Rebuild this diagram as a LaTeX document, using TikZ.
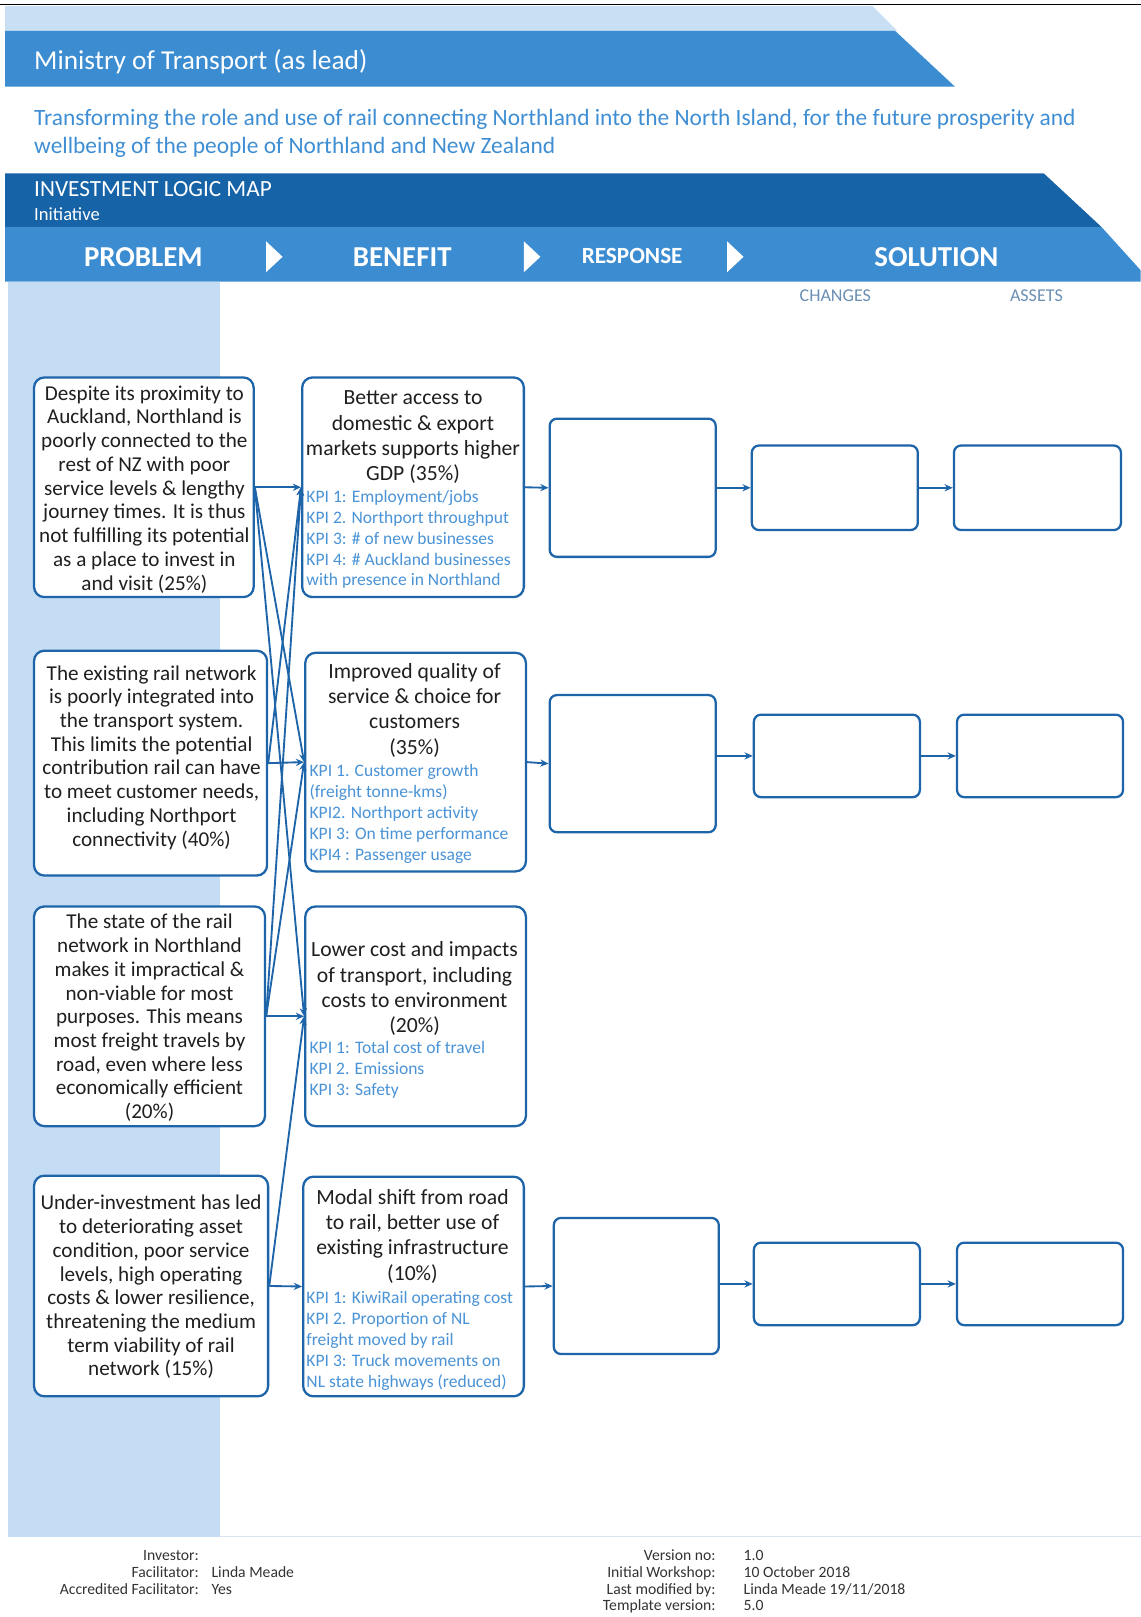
\documentclass[tikz,border=0pt]{standalone}
\usepackage{fontspec}
\setmainfont{Carlito}
\usetikzlibrary{arrows.meta}
\definecolor{bandlight}{HTML}{C9DFF4}
\definecolor{bandmid}{HTML}{3B8CD1}
\definecolor{banddark}{HTML}{1763A7}
\definecolor{colbg}{HTML}{C4DCF4}
\definecolor{boxline}{HTML}{1E64A8}
\definecolor{kpi}{HTML}{4A93D6}
\definecolor{subt}{HTML}{3F8ED3}
\definecolor{hdrgray}{HTML}{6A8FB3}
\definecolor{foot}{HTML}{333333}
\definecolor{rule}{HTML}{DCE5EE}
\begin{document}
\begin{tikzpicture}[x=1pt,y=-1pt,
  pbox/.style={draw=boxline, line width=2.2pt, rounded corners=10pt, fill=white, inner sep=0pt},
  ptext/.style={align=center, inner sep=0pt, font=\fontsize{20.5}{23}\selectfont, text=black!88},
  bbox/.style={draw=boxline, line width=2.2pt, rounded corners=10pt, fill=white, inner sep=0pt},
  ebox/.style={draw=boxline, line width=2.2pt, rounded corners=7pt, fill=white, inner sep=0pt},
  btitle/.style={font=\fontsize{21}{24.5}\selectfont, text=black!88, align=center, anchor=north, inner sep=0pt},
  kpitext/.style={font=\fontsize{17}{20.3}\selectfont, text=kpi, align=left, anchor=north west, inner sep=0pt},
  conn/.style={draw=boxline, line width=1.8pt, -{Stealth[length=8pt,width=7pt]}},
  hdr/.style={text=white, inner sep=0pt},
  phase/.style={text=white, inner sep=0pt, font=\fontsize{28}{32}\selectfont\bfseries},
  sub/.style={text=hdrgray, inner sep=0pt, font=\fontsize{17.5}{20}\selectfont},
  foottext/.style={text=foot, inner sep=0pt, font=\fontsize{15.2}{16}\selectfont},
  chev/.style={fill=white}
]
\useasboundingbox (0,0) rectangle (1106,1568);
% --- header bands
\draw[black, line width=1.2pt] (0,4) -- (1106,4);
\fill[bandlight] (5,6) -- (846,6) -- (870,30) -- (5,30) -- cycle;
\fill[bandmid] (5,30) -- (868,30) -- (926,84) -- (5,84) -- cycle;
\fill[banddark] (5,168) -- (1012,168) -- (1068,220) -- (5,220) -- cycle;
\fill[bandmid] (5,220) -- (1068,220) -- (1106,262) -- (1106,273) -- (5,273) -- cycle;
\fill[colbg] (8,273) rectangle (213,1490);
\draw[rule, line width=1pt] (213,1490) -- (1106,1490);
% chevrons
\fill[chev] (258,234) -- (274,249) -- (258,264) -- cycle;
\fill[chev] (508,234) -- (524,249) -- (508,264) -- cycle;
\fill[chev] (705,234) -- (721,249) -- (705,264) -- cycle;
% header texts
\node[hdr, anchor=west, font=\fontsize{26.5}{30}\selectfont] (ttl) at (33,60) {Ministry of Transport (as lead)};
\node[inner sep=0pt, anchor=west, text=subt, font=\fontsize{22.7}{26}\selectfont] (sub1) at (33,116) {Transforming the role and use of rail connecting Northland into the North Island, for the future prosperity and};
\node[inner sep=0pt, anchor=west, text=subt, font=\fontsize{22.7}{26}\selectfont] (sub2) at (33,143) {wellbeing of the people of Northland and New Zealand};
\node[hdr, anchor=west, font=\fontsize{22.5}{25}\selectfont] (ilm) at (33,183) {INVESTMENT LOGIC MAP};
\node[hdr, anchor=west, font=\fontsize{18}{20}\selectfont] (init) at (33,208) {Initiative};
\node[phase] (hp) at (139,249) {PROBLEM};
\node[phase] (hb) at (390,249) {BENEFIT};
\node[phase, font=\fontsize{22.5}{26}\selectfont\bfseries] (hr) at (613,248) {RESPONSE};
\node[phase] (hs) at (908,249) {SOLUTION};
\node[sub] (hc) at (810,287) {CHANGES};
\node[sub] (ha) at (1005,287) {ASSETS};
% --- problem boxes
\node[pbox, minimum width=213pt, minimum height=213pt] (p1) at (139.5,472.5) {};
\node[pbox, minimum width=226pt, minimum height=218pt] (p2) at (146,740) {};
\node[pbox, minimum width=224pt, minimum height=213pt] (p3) at (145,985.5) {};
\node[pbox, minimum width=227pt, minimum height=214pt] (p4) at (146.5,1247) {};
\node[ptext] (p1t) at (140,474.5)
 {Despite its proximity to\\Auckland, Northland is\\poorly connected to the\\rest of NZ with poor\\service levels \& lengthy\\journey times. It is thus\\not fulfilling its potential\\as a place to invest in\\and visit (25\%)};
\node[ptext] (p2t) at (147,734.5)
 {The existing rail network\\is poorly integrated into\\the transport system.\\This limits the potential\\contribution rail can have\\to meet customer needs,\\including Northport\\connectivity (40\%)};
\node[ptext] (p3t) at (145,987)
 {The state of the rail\\network in Northland\\makes it impractical \&\\non-viable for most\\purposes. This means\\most freight travels by\\road, even where less\\economically efficient\\(20\%)};
\node[ptext] (p4t) at (146.5,1248)
 {Under-investment has led\\to deteriorating asset\\condition, poor service\\levels, high operating\\costs \& lower resilience,\\threatening the medium\\term viability of rail\\network (15\%)};
% --- benefit boxes
\node[bbox, minimum width=215pt, minimum height=213pt] (b1) at (400.5,472.5) {};
\node[bbox, minimum width=214pt, minimum height=212pt] (b2) at (403,739) {};
\node[bbox, minimum width=214pt, minimum height=213pt] (b3) at (403,985.5) {};
\node[bbox, minimum width=214pt, minimum height=213pt] (b4) at (401,1247.5) {};
\node[btitle] (b1t) at (400.5,379) {Better access to\\domestic \& export\\markets supports higher\\GDP (35\%)};
\node[kpitext] (b1k) at (297,475) {KPI 1: Employment/jobs\\KPI 2. Northport throughput\\KPI 3: \# of new businesses\\KPI 4: \# Auckland businesses\\with presence in Northland};
\node[btitle] (b2t) at (402,643) {Improved quality of\\service \& choice for\\customers\\(35\%)};
\node[kpitext] (b2k) at (300,741) {KPI 1. Customer growth\\(freight tonne-kms)\\KPI2. Northport activity\\KPI 3: On time performance\\KPI4 : Passenger usage};
\node[btitle] (b3t) at (402,913) {Lower cost and impacts\\of transport, including\\costs to environment\\(20\%)};
\node[kpitext] (b3k) at (300,1010) {KPI 1: Total cost of travel\\KPI 2. Emissions\\KPI 3: Safety};
\node[btitle] (b4t) at (400,1153) {Modal shift from road\\to rail, better use of\\existing infrastructure\\(10\%)};
\node[kpitext] (b4k) at (297,1252) {KPI 1: KiwiRail operating cost\\KPI 2. Proportion of NL\\freight moved by rail\\KPI 3: Truck movements on\\NL state highways (reduced)};
% --- response / changes / assets
\node[ebox, minimum width=161pt, minimum height=134pt] (r1) at (613.5,473) {};
\node[ebox, minimum width=161pt, minimum height=82pt] (c1) at (809.5,473) {};
\node[ebox, minimum width=162pt, minimum height=82pt] (a1) at (1006,473) {};
\node[ebox, minimum width=161pt, minimum height=133pt] (r2) at (613.5,740.5) {};
\node[ebox, minimum width=161pt, minimum height=80pt] (c2) at (811.5,733) {};
\node[ebox, minimum width=161pt, minimum height=80pt] (a2) at (1008.5,733) {};
\node[ebox, minimum width=160pt, minimum height=132pt] (r4) at (617,1247) {};
\node[ebox, minimum width=161pt, minimum height=80pt] (c4) at (811.5,1245) {};
\node[ebox, minimum width=161pt, minimum height=80pt] (a4) at (1008.5,1245) {};
% --- connectors problem -> benefit
\draw[conn] (p1.east) -- (b1.west);
\draw[conn] (p1.east) -- (b2.west);
\draw[conn] (p1.east) -- (b3.west);
\draw[conn] (p2.east) -- (b1.west);
\draw[conn] (p2.east) -- (b2.west);
\draw[conn] (p3.east) -- (b1.west);
\draw[conn] (p3.east) -- (b2.west);
\draw[conn] (p3.east) -- (b3.west);
\draw[conn] (p4.east) -- (b3.west);
\draw[conn] (p4.east) -- (b4.west);
% --- benefit -> response -> changes -> assets
\draw[conn] (b1.east) -- (r1.west);
\draw[conn] (r1.east) -- (c1.west);
\draw[conn] (c1.east) -- (a1.west);
\draw[conn] (b2.east) -- (r2.west);
\draw[conn] (c2.west -| r2.east) -- (c2.west);
\draw[conn] (c2.east) -- (a2.west);
\draw[conn] (b4.east) -- (r4.west);
\draw[conn] (c4.west -| r4.east) -- (c4.west);
\draw[conn] (c4.east) -- (a4.west);
% --- footer
\node[foottext, anchor=base east] (f1) at (193,1513) {Investor:};
\node[foottext, anchor=base east] (f2) at (193,1530) {Facilitator:};
\node[foottext, anchor=base east] (f3) at (193,1546) {Accredited Facilitator:};
\node[foottext, anchor=base west] (f2v) at (205,1530) {Linda Meade};
\node[foottext, anchor=base west] (f3v) at (205,1546) {Yes};
\node[foottext, anchor=base east] (g1) at (694,1513) {Version no:};
\node[foottext, anchor=base east] (g2) at (694,1530) {Initial Workshop:};
\node[foottext, anchor=base east] (g3) at (694,1546) {Last modified by:};
\node[foottext, anchor=base east] (g4) at (694,1562) {Template version:};
\node[foottext, anchor=base west] (g1v) at (721,1513) {1.0};
\node[foottext, anchor=base west] (g2v) at (721,1530) {10 October 2018};
\node[foottext, anchor=base west] (g3v) at (721,1546) {Linda Meade 19/11/2018};
\node[foottext, anchor=base west] (g4v) at (721,1562) {5.0};
\end{tikzpicture}
\end{document}
